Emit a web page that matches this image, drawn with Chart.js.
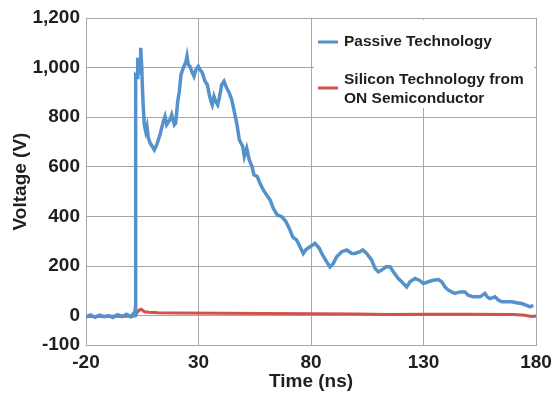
<!DOCTYPE html>
<html>
<head>
<meta charset="utf-8">
<script src="https://cdn.jsdelivr.net/npm/chart.js@4"></script>
<style>
  html, body { margin: 0; padding: 0; background: #fff; }
  #wrap { width: 553px; height: 395px; }
</style>
</head>
<body>
<div id="wrap"><canvas id="voltChart" width="553" height="395"></canvas></div>
<script>
// Values
const passiveT = [-20, -18, -16, -14, -12, -10, -8, -6, -4, -2, 0, 1, 1.8, 1.95, 2.2, 2.67, 2.98, 3.24, 3.56, 4.0, 4.31, 4.76, 5.02, 5.47, 5.91, 6.53, 7.11, 7.69, 8.44, 9.47, 10.36, 11.42, 12.89, 14.36, 15.11, 15.87, 17.33, 18.09, 19.24, 19.87, 20.76, 21.47, 22.22, 23.24, 24.44, 24.89, 25.47, 26.22, 26.98, 28.0, 28.89, 29.91, 30.67, 31.69, 32.89, 33.91, 34.8, 35.56, 36.13, 36.89, 37.64, 38.53, 39.24, 40.31, 41.33, 42.53, 43.69, 44.76, 46.22, 47.24, 48.13, 49.64, 50.36, 51.42, 52.58, 53.78, 54.67, 56.13, 57.33, 58.8, 60.31, 61.78, 63.24, 65.02, 66.98, 68.89, 70.36, 71.87, 73.64, 75.11, 76.58, 77.78, 79.56, 81.78, 83.69, 84.76, 86.98, 88.44, 89.91, 91.42, 93.64, 95.87, 98.09, 99.56, 101.78, 102.98, 104.76, 106.98, 108.44, 109.91, 111.42, 113.33, 115.11, 116.58, 118.8, 120.31, 122.53, 124.0, 126.22, 128.13, 129.91, 132.13, 134.36, 136.58, 138.09, 139.56, 141.02, 142.53, 144.0, 146.22, 148.44, 149.91, 152.13, 155.11, 157.33, 158.36, 159.56, 161.78, 163.24, 164.76, 166.98, 169.2, 171.42, 173.64, 175.87, 177.33, 178.8, 179.56];
const passiveV = [-5, 3, -6, 2, -4, 0, -7, 4, -3, 6, -4, 8, 2, 400, 967, 960, 1040, 971, 1032, 1000, 1080, 1005, 931, 838, 770, 743, 763, 717, 697, 682, 669, 689, 729, 783, 803, 770, 790, 810, 770, 777, 864, 904, 972, 999, 1025, 1046, 1012, 1005, 985, 965, 992, 1005, 992, 979, 945, 931, 891, 864, 850, 884, 864, 850, 877, 931, 945, 918, 898, 871, 810, 763, 709, 682, 642, 675, 628, 601, 568, 561, 534, 507, 487, 467, 433, 406, 399, 379, 352, 318, 305, 278, 251, 267, 278, 292, 272, 251, 217, 197, 211, 238, 258, 265, 251, 251, 258, 265, 251, 224, 191, 177, 184, 197, 197, 177, 150, 137, 116, 137, 150, 143, 130, 137, 143, 146, 137, 116, 103, 96, 90, 96, 96, 83, 76, 76, 90, 76, 69, 76, 63, 56, 56, 56, 52, 49, 42, 36, 42];

const siliconT = [-20, -10, 0, 1.5, 1.8, 2.5, 3.5, 4.5, 6, 8, 12, 20, 40, 60, 80, 100, 115, 130, 150, 170, 175, 178, 180];
const siliconV = [-3, -2, -2, -1, 25, 10, 22, 26, 16, 14, 12, 11, 10, 9, 8, 7, 5, 6, 6, 5, 2, -3, -1];

const seriesNames = ['Passive Technology', 'Silicon Technology from ON Semiconductor'];
const legendLines = [['Passive Technology'], ['Silicon Technology from', 'ON Semiconductor']];

const xTickValues = [-20, 30, 80, 130, 180];
const yTickValues = [-118, 0, 200, 400, 600, 800, 1000, 1200];
const yTickLabels = ['-100', '0', '200', '400', '600', '800', '1,000', '1,200'];

const BLUE = '#5592cc';
const RED = '#cf524d';
const GRID = '#a6a6a6';
const TEXT = '#1f1f1f';
const FONT = '"Liberation Sans", Arial, sans-serif';

function toPoints(xs, ys) {
  return xs.map((x, i) => ({ x: x, y: ys[i] }));
}

// legend drawn as a white box inside the plot area
const boxLegend = {
  id: 'boxLegend',
  afterDatasetsDraw(chart) {
    const ctx = chart.ctx;
    const colors = [BLUE, RED];
    ctx.save();
    ctx.fillStyle = '#ffffff';
    ctx.fillRect(314, 20, 220, 88);
    ctx.font = 'bold 15.5px ' + FONT;
    ctx.textBaseline = 'middle';
    ctx.fillStyle = TEXT;
    const rows = [{ lineY: 42, textY: [42] }, { lineY: 88, textY: [80, 99] }];
    rows.forEach((row, i) => {
      ctx.strokeStyle = colors[i];
      ctx.lineWidth = 3;
      ctx.beginPath();
      ctx.moveTo(318, row.lineY);
      ctx.lineTo(338, row.lineY);
      ctx.stroke();
      legendLines[i].forEach((t, j) => {
        ctx.fillText(t, 344, row.textY[j]);
      });
    });
    ctx.restore();
  }
};

new Chart(document.getElementById('voltChart'), {
  type: 'line',
  data: {
    datasets: [
      {
        label: seriesNames[0],
        data: toPoints(passiveT, passiveV),
        borderColor: BLUE,
        borderWidth: 3.5,
        pointRadius: 0,
        tension: 0
      },
      {
        label: seriesNames[1],
        data: toPoints(siliconT, siliconV),
        borderColor: RED,
        borderWidth: 3,
        pointRadius: 0,
        tension: 0
      }
    ]
  },
  options: {
    responsive: false,
    animation: false,
    layout: { padding: { top: 18, right: 0, left: 0, bottom: 0 } },
    plugins: {
      legend: { display: false },
      tooltip: { enabled: false }
    },
    scales: {
      x: {
        type: 'linear',
        min: -20,
        max: 180,
        afterBuildTicks: axis => { axis.ticks = xTickValues.map(v => ({ value: v })); },
        afterFit: scale => { scale.height = 50; scale.paddingRight = 17; },
        grid: { color: GRID, drawTicks: false },
        border: { color: GRID },
        ticks: {
          padding: 6,
          color: TEXT,
          maxRotation: 0,
          font: { family: FONT, size: 19, weight: 'bold' }
        },
        title: {
          display: true,
          text: 'Time (ns)',
          color: TEXT,
          padding: { top: 0, bottom: 2 },
          font: { family: FONT, size: 19, weight: 'bold' }
        }
      },
      y: {
        min: -118,
        max: 1200,
        afterBuildTicks: axis => { axis.ticks = yTickValues.map(v => ({ value: v })); },
        afterFit: scale => { scale.width = 86; },
        grid: { color: GRID, drawTicks: false },
        border: { color: GRID },
        ticks: {
          padding: 6,
          color: TEXT,
          font: { family: FONT, size: 19, weight: 'bold' },
          callback: (value, index) => yTickLabels[index]
        },
        title: {
          display: true,
          text: 'Voltage (V)',
          color: TEXT,
          padding: { top: 9, bottom: 0 },
          font: { family: FONT, size: 19, weight: 'bold' }
        }
      }
    }
  },
  plugins: [boxLegend]
});
</script>
</body>
</html>
